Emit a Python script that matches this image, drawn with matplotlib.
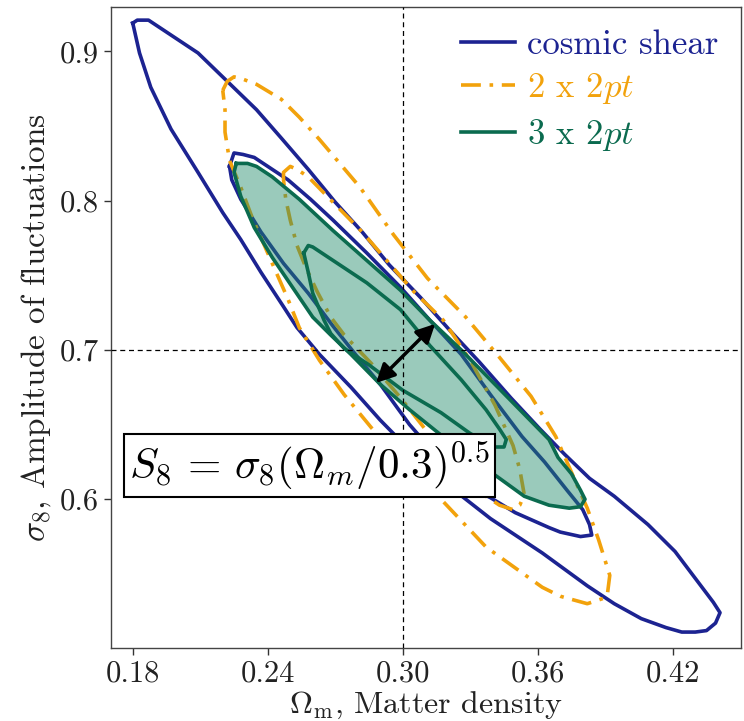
import numpy as np
import matplotlib
matplotlib.use("Agg")
import matplotlib.pyplot as plt

plt.rcParams['font.family'] = 'serif'
plt.rcParams['font.serif'] = ['cmr10']
plt.rcParams['mathtext.fontset'] = 'cm'
plt.rcParams['axes.formatter.use_mathtext'] = True
plt.rcParams['axes.unicode_minus'] = False

# ---------------- data (contour vertices) ----------------
# cosmic shear, outer (95%) contour
cs_outer_om = [0.180, 0.182, 0.187, 0.197, 0.209, 0.222, 0.235, 0.246, 0.258, 0.270,
               0.282, 0.294, 0.308, 0.321, 0.334, 0.348, 0.361, 0.372, 0.383, 0.394,
               0.409, 0.421, 0.430, 0.438, 0.441, 0.439, 0.435, 0.430, 0.424, 0.417,
               0.406, 0.394, 0.382, 0.372, 0.362, 0.350, 0.339, 0.328, 0.317, 0.303,
               0.290, 0.277, 0.263, 0.253, 0.247, 0.237, 0.228, 0.220, 0.209, 0.197,
               0.188, 0.183]
cs_outer_s8 = [0.919, 0.921, 0.921, 0.911, 0.899, 0.880, 0.861, 0.842, 0.821, 0.799,
               0.779, 0.757, 0.735, 0.713, 0.692, 0.668, 0.647, 0.630, 0.614, 0.602,
               0.583, 0.565, 0.547, 0.531, 0.524, 0.517, 0.512, 0.511, 0.511, 0.514,
               0.520, 0.530, 0.542, 0.553, 0.564, 0.576, 0.587, 0.600, 0.613, 0.633,
               0.653, 0.675, 0.697, 0.715, 0.729, 0.752, 0.774, 0.792, 0.819, 0.848,
               0.876, 0.899]
# cosmic shear, inner (68%) contour
cs_inner_om = [0.223, 0.225, 0.229, 0.234, 0.240, 0.249, 0.259, 0.269, 0.284, 0.299,
               0.312, 0.326, 0.339, 0.353, 0.363, 0.373, 0.380, 0.383, 0.384, 0.379,
               0.370, 0.365, 0.350, 0.339, 0.330, 0.317, 0.303, 0.290, 0.279, 0.269,
               0.258, 0.247, 0.237, 0.228, 0.224]
cs_inner_s8 = [0.823, 0.832, 0.831, 0.829, 0.823, 0.814, 0.801, 0.787, 0.765, 0.742,
               0.720, 0.697, 0.670, 0.642, 0.625, 0.606, 0.593, 0.583, 0.576, 0.575,
               0.578, 0.581, 0.591, 0.601, 0.608, 0.626, 0.650, 0.677, 0.697, 0.716,
               0.738, 0.758, 0.779, 0.801, 0.814]
# 2 x 2pt, outer contour
tp_outer_om = [0.220, 0.222, 0.225, 0.228, 0.235, 0.246, 0.254, 0.263, 0.272, 0.281,
               0.296, 0.311, 0.328, 0.343, 0.357, 0.368, 0.375, 0.382, 0.387, 0.392,
               0.391, 0.390, 0.382, 0.370, 0.362, 0.337, 0.317, 0.299, 0.286, 0.274,
               0.263, 0.254, 0.249, 0.242, 0.233, 0.228, 0.223, 0.221, 0.221]
tp_outer_s8 = [0.874, 0.880, 0.883, 0.882, 0.878, 0.868, 0.856, 0.841, 0.825, 0.809,
               0.777, 0.748, 0.722, 0.695, 0.669, 0.642, 0.618, 0.594, 0.573, 0.549,
               0.537, 0.534, 0.530, 0.535, 0.541, 0.568, 0.600, 0.626, 0.648, 0.670,
               0.693, 0.715, 0.734, 0.758, 0.789, 0.809, 0.827, 0.846, 0.861]
# 2 x 2pt, inner contour
tp_inner_om = [0.247, 0.247, 0.250, 0.253, 0.258, 0.269, 0.282, 0.294, 0.305, 0.318,
               0.330, 0.341, 0.349, 0.352, 0.354, 0.352, 0.349, 0.343, 0.334, 0.323,
               0.312, 0.299, 0.286, 0.274, 0.268, 0.262, 0.257, 0.253, 0.250, 0.248]
tp_inner_s8 = [0.814, 0.819, 0.823, 0.821, 0.816, 0.799, 0.779, 0.758, 0.739, 0.720,
               0.693, 0.663, 0.636, 0.620, 0.603, 0.596, 0.593, 0.596, 0.605, 0.623,
               0.643, 0.668, 0.691, 0.710, 0.722, 0.739, 0.755, 0.770, 0.787, 0.801]
# 3 x 2pt, outer contour
th_outer_om = [0.226, 0.231, 0.235, 0.242, 0.254, 0.269, 0.284, 0.299, 0.312, 0.326,
               0.339, 0.352, 0.365, 0.369, 0.375, 0.379, 0.381, 0.379, 0.374, 0.365,
               0.354, 0.343, 0.330, 0.317, 0.303, 0.290, 0.277, 0.268, 0.260, 0.251,
               0.242, 0.234, 0.228, 0.225]
th_outer_s8 = [0.825, 0.825, 0.823, 0.816, 0.801, 0.780, 0.760, 0.740, 0.720, 0.700,
               0.680, 0.660, 0.640, 0.628, 0.617, 0.606, 0.600, 0.595, 0.594, 0.596,
               0.602, 0.614, 0.628, 0.643, 0.660, 0.677, 0.697, 0.710, 0.722, 0.742,
               0.762, 0.782, 0.803, 0.819]
# 3 x 2pt, inner contour
th_inner_om = [0.256, 0.258, 0.260, 0.269, 0.284, 0.299, 0.312, 0.326, 0.337, 0.343,
               0.346, 0.345, 0.341, 0.330, 0.317, 0.300, 0.285, 0.274, 0.268, 0.265,
               0.260, 0.258]
th_inner_s8 = [0.765, 0.770, 0.769, 0.760, 0.745, 0.727, 0.703, 0.680, 0.660, 0.647,
               0.640, 0.635, 0.635, 0.644, 0.658, 0.673, 0.690, 0.701, 0.711, 0.720,
               0.738, 0.752]

fiducial_om = 0.30
fiducial_s8 = 0.70
arrow_start = (0.2881, 0.6779)
arrow_end = (0.3144, 0.7175)

labels = ['cosmic shear', r'$\mathit{2}$ x $\mathit{2pt}$', r'$\mathit{3}$ x $\mathit{2pt}$']
xticks = [0.18, 0.24, 0.30, 0.36, 0.42]
yticks = [0.6, 0.7, 0.8, 0.9]

c_blue = '#1c2391'
c_orange = '#f2a20c'
c_green = '#0b6b4f'
c_fill = '#1f8a6a'


def closed(a):
    return np.append(np.asarray(a), a[0])


fig = plt.figure(figsize=(7.44, 7.21), dpi=100)
ax = fig.add_axes([0.1488, 0.1012, 0.8468, 0.8895])

lw = 2.6
ax.plot(closed(cs_outer_om), closed(cs_outer_s8), color=c_blue, lw=lw,
        solid_joinstyle='round', zorder=2, label=labels[0])
ax.plot(closed(cs_inner_om), closed(cs_inner_s8), color=c_blue, lw=lw,
        solid_joinstyle='round', zorder=2)
dd = (0, (5.5, 2.4, 1.0, 2.4))
ax.plot(closed(tp_outer_om), closed(tp_outer_s8), color=c_orange, lw=lw, ls=dd,
        dash_joinstyle='round', zorder=3, label=labels[1])
ax.plot(closed(tp_inner_om), closed(tp_inner_s8), color=c_orange, lw=lw, ls=dd,
        dash_joinstyle='round', zorder=3)
ax.fill(th_outer_om, th_outer_s8, color=c_fill, alpha=0.45, lw=0, zorder=4)
ax.plot(closed(th_outer_om), closed(th_outer_s8), color=c_green, lw=lw,
        solid_joinstyle='round', zorder=5, label=labels[2])
ax.plot(closed(th_inner_om), closed(th_inner_s8), color=c_green, lw=lw,
        solid_joinstyle='round', zorder=5)

ax.axvline(fiducial_om, color='k', lw=0.9, ls=(0, (4, 3)), zorder=6)
ax.axhline(fiducial_s8, color='k', lw=0.9, ls=(0, (4, 3)), zorder=6)

ax.annotate('', xy=arrow_start, xytext=arrow_end,
            arrowprops=dict(arrowstyle='<|-|>', color='k', lw=2.5,
                            mutation_scale=28, shrinkA=0, shrinkB=0), zorder=7)

ax.text(0.316, 0.284, r'$S_8\,=\,\sigma_8(\Omega_m/0.3)^{0.5}$', transform=ax.transAxes,
        ha='center', va='center', fontsize=31, zorder=8,
        bbox=dict(boxstyle='square,pad=0.12', facecolor='white', edgecolor='k', lw=1.5))

ax.set_xlim(0.1702, 0.4502)
ax.set_ylim(0.5003, 0.930)
ax.set_xticks(xticks)
ax.set_xticklabels([f'{t:.2f}' for t in xticks])
ax.set_yticks(yticks)
ax.set_yticklabels([f'{t:.1f}' for t in yticks])
ax.tick_params(labelsize=22, length=5, width=1, direction='out', colors='#333333',
               labelcolor='#222222')
for s in ax.spines.values():
    s.set_linewidth(1.0)
    s.set_color('#444444')

ax.set_xlabel(r'$\Omega_{\rm m}$, Matter density', fontsize=23, labelpad=2, color='#222222')
ax.set_ylabel(r'$\sigma_8$, Amplitude of fluctuations', fontsize=24, labelpad=5, color='#222222')

leg = ax.legend(loc='upper right', frameon=False, fontsize=25, handlelength=1.55,
                handletextpad=0.35, borderaxespad=0.25, labelspacing=0.3)
for t, c in zip(leg.get_texts(), [c_blue, c_orange, c_green]):
    t.set_color(c)

fig.savefig('out.png', dpi=100)
